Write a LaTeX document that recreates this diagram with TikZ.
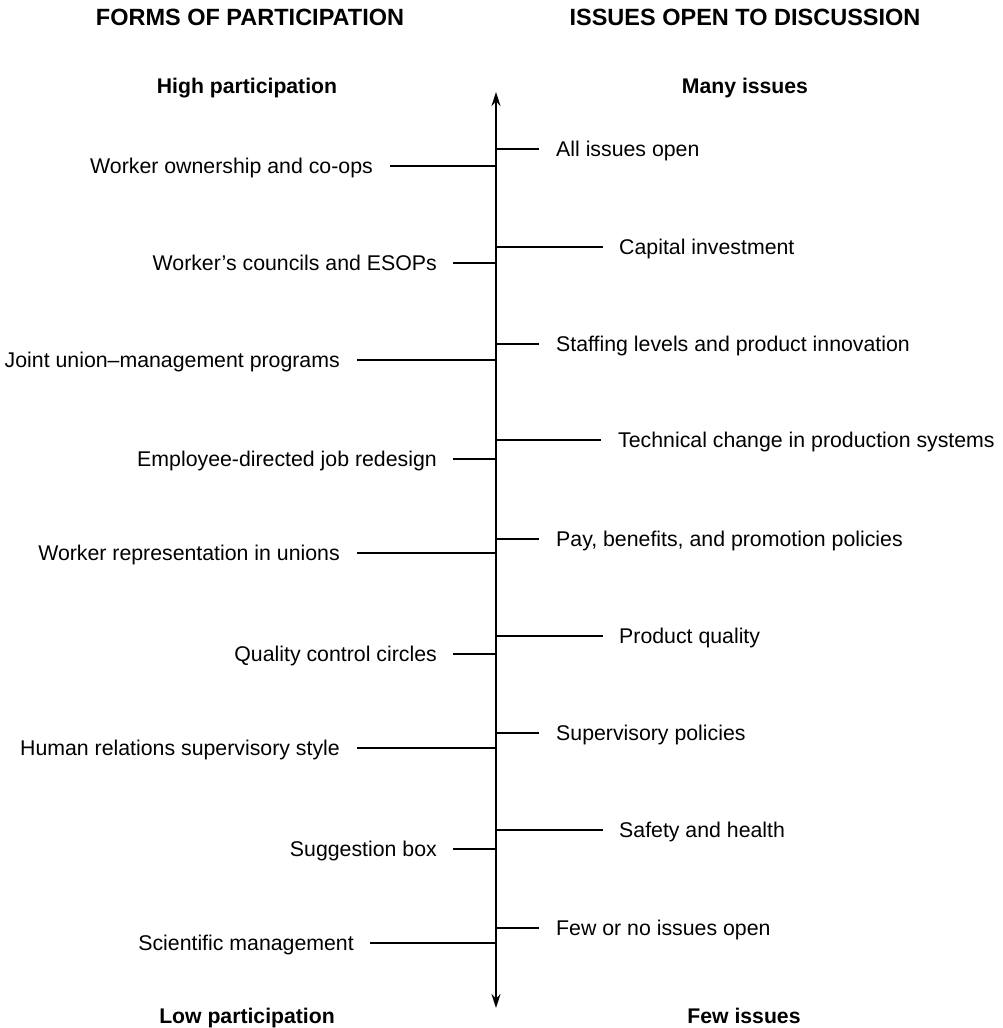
\documentclass[tikz,border=0pt]{standalone}
\usepackage{fontspec}
\setmainfont{Liberation Sans}
\usetikzlibrary{arrows.meta}
\begin{document}
\begin{tikzpicture}[x=1pt,y=-1pt,
  lbl/.style={font=\fontsize{21.3}{24}\selectfont, inner sep=0pt, text height=16pt, text depth=2pt},
  lft/.style={lbl, anchor=east},
  rgt/.style={lbl, anchor=west},
  hdr/.style={font=\fontsize{23.5}{26}\selectfont\bfseries, inner sep=0pt},
  sub/.style={font=\fontsize{21.2}{24}\selectfont\bfseries, inner sep=0pt, anchor=base},
  tick/.style={line width=1.4pt},
  axis/.style={line width=1.5pt, {Stealth[length=14pt,width=9pt]}-{Stealth[length=14pt,width=9pt]}}]
\useasboundingbox (0,0) rectangle (1002,1028);
% headers
\node[hdr] (h1) at (250,17) {FORMS OF PARTICIPATION};
\node[hdr] (h2) at (745,17) {ISSUES OPEN TO DISCUSSION};
\node[sub] (s1) at (247,93) {High participation};
\node[sub] (s2) at (745,93) {Many issues};
\node[sub] (s3) at (247,1023) {Low participation};
\node[sub] (s4) at (744,1023) {Few issues};
% axis
\coordinate (top) at (496,92);
\coordinate (bot) at (496,1008);
\draw[axis] (bot) -- (top);
% left items
\foreach \n/\y/\xe/\xl/\t in {
  1/166/373/390/{Worker ownership and co-ops},
  2/263/437/453/{Worker's councils and ESOPs},
  3/360/340/357/{Joint union--management programs},
  4/459/437/453/{Employee-directed job redesign},
  5/553/340/357/{Worker representation in unions},
  6/654/437/453/{Quality control circles},
  7/748/340/357/{Human relations supervisory style},
  8/849/437/453/{Suggestion box},
  9/943/354/370/{Scientific management}}{
  \node[lft] (l\n) at (\xe,\y) {\t};
  \coordinate (la\n) at (496,\y);
  \draw[tick] ([xshift={\xl-\xe}]l\n.east) -- (la\n);
}
% right items
\foreach \n/\y/\xs/\xl/\t in {
  1/149/556/539/{All issues open},
  2/247/619/603/{Capital investment},
  3/344/556/539/{Staffing levels and product innovation},
  4/440/618/601/{Technical change in production systems},
  5/539/556/539/{Pay, benefits, and promotion policies},
  6/636/619/603/{Product quality},
  7/733/556/539/{Supervisory policies},
  8/830/619/603/{Safety and health},
  9/928/556/539/{Few or no issues open}}{
  \node[rgt] (r\n) at (\xs,\y) {\t};
  \coordinate (ra\n) at (496,\y);
  \draw[tick] (ra\n) -- ([xshift={\xl-\xs}]r\n.west);
}
\end{tikzpicture}
\end{document}
